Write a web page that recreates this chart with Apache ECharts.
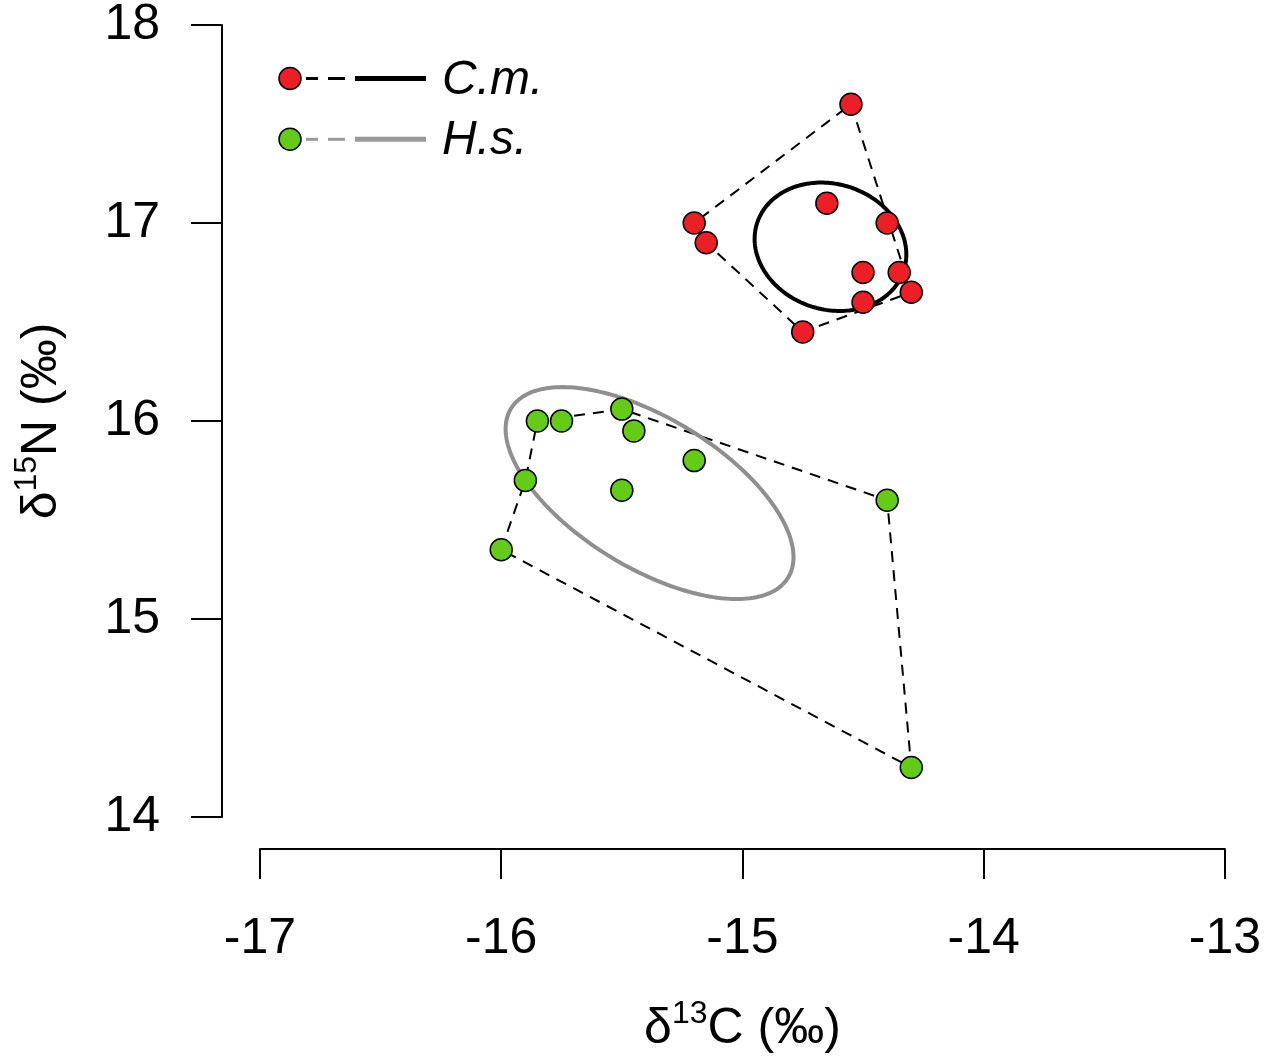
<!DOCTYPE html>
<html>
<head>
<meta charset="utf-8">
<script src="https://cdn.jsdelivr.net/npm/echarts@6/dist/echarts.min.js"></script>
<style>
html,body{margin:0;padding:0;background:#fff;}
#chart{width:1264px;height:1059px;}
</style>
</head>
<body>
<div id="chart"></div>
<script>
// ---- data ----
var cmX = [-14.55, -15.2, -15.15, -14.65, -14.4, -14.5, -14.35, -14.3, -14.5, -14.75];
var cmY = [17.6, 17.0, 16.9, 17.1, 17.0, 16.75, 16.75, 16.65, 16.6, 16.45];
var cmHull = [0, 7, 9, 2, 1];

var hsX = [-16.0, -15.9, -15.85, -15.75, -15.5, -15.45, -15.2, -15.5, -14.4, -14.3];
var hsY = [15.35, 15.7, 16.0, 16.0, 16.06, 15.95, 15.8, 15.65, 15.6, 14.25];
var hsHull = [0, 1, 2, 4, 8, 9];

var xMin = -17, xMax = -13, yMin = 14, yMax = 18;
var labels = ['C.m.', 'H.s.'];

var FONT = '"Liberation Sans", Arial, sans-serif';
var RED = '#ec1f27', GREEN = '#64cc16', GRAY = '#8f8f8f';

function pts(xs, ys) { return xs.map(function (x, i) { return [x, ys[i]]; }); }
function hull(xs, ys, idx) {
  var p = idx.map(function (i) { return [xs[i], ys[i]]; });
  p.push([xs[idx[0]], ys[idx[0]]]);
  return p;
}
// standard ellipse (SEA) from the sample covariance of each group
function sea(xs, ys) {
  var n = xs.length, mx = 0, my = 0;
  for (var i = 0; i < n; i++) { mx += xs[i]; my += ys[i]; }
  mx /= n; my /= n;
  var a = 0, b = 0, c = 0;
  for (i = 0; i < n; i++) {
    var dx = xs[i] - mx, dy = ys[i] - my;
    a += dx * dx; b += dx * dy; c += dy * dy;
  }
  a /= (n - 1); b /= (n - 1); c /= (n - 1);
  var h = Math.sqrt(((a - c) / 2) * ((a - c) / 2) + b * b);
  var l1 = (a + c) / 2 + h, l2 = (a + c) / 2 - h;
  var th = 0.5 * Math.atan2(2 * b, a - c);
  var r1 = Math.sqrt(l1), r2 = Math.sqrt(l2);
  var out = [];
  for (var k = 0; k <= 200; k++) {
    var t = 2 * Math.PI * k / 200;
    out.push([
      mx + r1 * Math.cos(t) * Math.cos(th) - r2 * Math.sin(t) * Math.sin(th),
      my + r1 * Math.cos(t) * Math.sin(th) + r2 * Math.sin(t) * Math.cos(th)
    ]);
  }
  return out;
}

var chart = echarts.init(document.getElementById('chart'), null, {renderer: 'canvas'});

var axisCommon = {
  type: 'value',
  interval: 1,
  splitLine: {show: false},
  axisLine: {show: true, onZero: false, lineStyle: {color: '#000', width: 2}},
  nameLocation: 'middle'
};

var titleRich = {
  a: {fontSize: 50, fontFamily: FONT, color: '#000', lineHeight: 56, verticalAlign: 'bottom'},
  s: {fontSize: 32, fontFamily: FONT, color: '#000', lineHeight: 32, verticalAlign: 'top'}
};

var option = {
  animation: false,
  backgroundColor: '#fff',
  grid: {left: 260, top: 20, width: 968, height: 799, containLabel: false},
  xAxis: Object.assign({}, axisCommon, {
    min: xMin, max: xMax,
    offset: 32,
    axisTick: {show: true, inside: false, length: 30, lineStyle: {color: '#000', width: 2}},
    axisLabel: {color: '#000', fontSize: 50, fontFamily: FONT, margin: 65},
    name: '{a|δ}{s|13}{a|C (‰)}',
    nameGap: 149,
    nameTextStyle: {rich: titleRich}
  }),
  yAxis: Object.assign({}, axisCommon, {
    min: yMin, max: yMax,
    offset: 38,
    axisTick: {show: true, inside: false, length: 31, lineStyle: {color: '#000', width: 2}},
    axisLabel: {color: '#000', fontSize: 50, fontFamily: FONT, margin: 62},
    name: '{a|δ}{s|15}{a|N (‰)}',
    nameGap: 155,
    nameTextStyle: {rich: titleRich}
  }),
  series: [
    {type: 'line', data: hull(cmX, cmY, cmHull), symbol: 'none', z: 2,
     lineStyle: {color: '#000', width: 2, type: [11, 8]}},
    {type: 'line', data: hull(hsX, hsY, hsHull), symbol: 'none', z: 2,
     lineStyle: {color: '#000', width: 2, type: [11, 8]}},
    {type: 'line', data: sea(cmX, cmY), symbol: 'none', z: 3, smooth: false,
     lineStyle: {color: '#000', width: 4}},
    {type: 'line', data: sea(hsX, hsY), symbol: 'none', z: 3, smooth: false,
     lineStyle: {color: GRAY, width: 4}},
    {type: 'scatter', name: labels[0], data: pts(cmX, cmY), symbol: 'circle', symbolSize: 22, z: 4,
     itemStyle: {color: RED, borderColor: '#000', borderWidth: 1.5, opacity: 1}},
    {type: 'scatter', name: labels[1], data: pts(hsX, hsY), symbol: 'circle', symbolSize: 22, z: 4,
     itemStyle: {color: GREEN, borderColor: '#000', borderWidth: 1.5, opacity: 1}}
  ],
  graphic: [
    // legend row 1
    {type: 'line', shape: {x1: 306, y1: 78.5, x2: 318, y2: 78.5}, style: {stroke: '#000', lineWidth: 3}},
    {type: 'line', shape: {x1: 328, y1: 78.5, x2: 345, y2: 78.5}, style: {stroke: '#000', lineWidth: 3}},
    {type: 'line', shape: {x1: 355, y1: 78.5, x2: 426, y2: 78.5}, style: {stroke: '#000', lineWidth: 5}},
    {type: 'circle', shape: {cx: 290, cy: 78.5, r: 11}, style: {fill: RED, stroke: '#000', lineWidth: 1.5}},
    {type: 'text', x: 442, y: 81, style: {text: labels[0], fontSize: 48, fontStyle: 'italic', fontFamily: FONT, fill: '#000', verticalAlign: 'middle'}},
    // legend row 2
    {type: 'line', shape: {x1: 306, y1: 139.3, x2: 318, y2: 139.3}, style: {stroke: '#999', lineWidth: 3}},
    {type: 'line', shape: {x1: 328, y1: 139.3, x2: 345, y2: 139.3}, style: {stroke: '#999', lineWidth: 3}},
    {type: 'line', shape: {x1: 355, y1: 139.3, x2: 426, y2: 139.3}, style: {stroke: '#999', lineWidth: 5}},
    {type: 'circle', shape: {cx: 290, cy: 139.3, r: 11}, style: {fill: GREEN, stroke: '#000', lineWidth: 1.5}},
    {type: 'text', x: 442, y: 141, style: {text: labels[1], fontSize: 48, fontStyle: 'italic', fontFamily: FONT, fill: '#000', verticalAlign: 'middle'}}
  ]
};
chart.setOption(option);
</script>
</body>
</html>
